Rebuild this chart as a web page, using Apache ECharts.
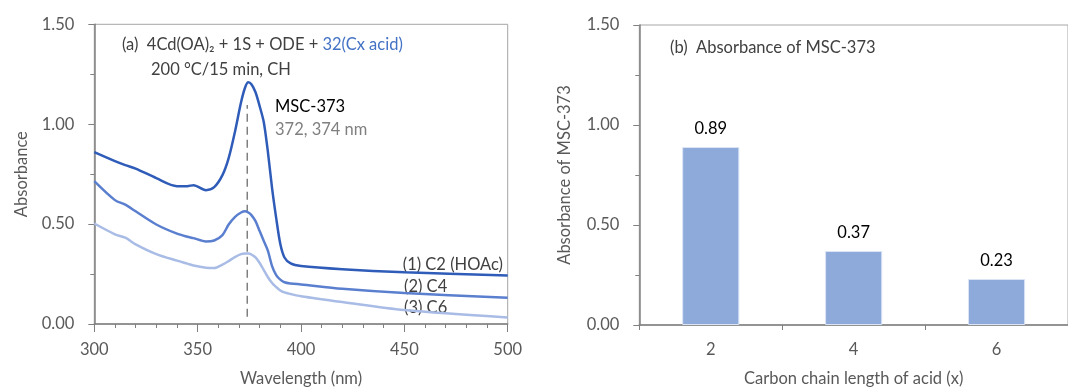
<!DOCTYPE html>
<html>
<head>
<meta charset="utf-8">
<script src="https://cdn.jsdelivr.net/npm/echarts@6/dist/echarts.min.js"></script>
<style>
  html, body { margin: 0; padding: 0; background: #fff; }
  #chart { width: 1068px; height: 392px; }
</style>
</head>
<body>
<div id="chart"></div>
<script>
// (a) spectra, wavelength in nm / absorbance
const wavelength = [300, 310, 315, 320, 330, 340, 345, 348, 354, 358, 362, 365, 368, 371, 373, 374.5, 376, 378, 380, 382, 384, 386, 388, 390, 392, 395, 400, 420, 450, 500];
const c2 = [0.86, 0.815, 0.795, 0.778, 0.73, 0.69, 0.69, 0.695, 0.67, 0.685, 0.745, 0.83, 0.96, 1.11, 1.185, 1.21, 1.2, 1.16, 1.09, 1.01, 0.86, 0.68, 0.53, 0.40, 0.333, 0.303, 0.29, 0.274, 0.259, 0.243];
const c4 = [0.715, 0.62, 0.597, 0.564, 0.498, 0.452, 0.437, 0.43, 0.413, 0.418, 0.445, 0.498, 0.535, 0.558, 0.564, 0.558, 0.545, 0.515, 0.465, 0.415, 0.366, 0.29, 0.245, 0.222, 0.209, 0.203, 0.198, 0.176, 0.155, 0.132];
const c6 = [0.503, 0.449, 0.432, 0.399, 0.35, 0.317, 0.302, 0.293, 0.282, 0.28, 0.297, 0.315, 0.335, 0.35, 0.353, 0.353, 0.348, 0.333, 0.305, 0.27, 0.234, 0.205, 0.185, 0.168, 0.158, 0.15, 0.139, 0.11, 0.07, 0.033];
const seriesNames = ['(1) C2 (HOAc)', '(2) C4', '(3) C6'];
const peakLine = [374, 0.036, 1.096];

// (b) bar values
const chainLength = ['2', '4', '6'];
const msc373 = [0.89, 0.37, 0.23];

const toPairs = (ys) => ys.map((y, i) => [wavelength[i], y]);

const font = 'Lato, "Open Sans", sans-serif';
const fs = 16.5;
const axisGray = '#808080';
const textGray = '#595959';

const chart = echarts.init(document.getElementById('chart'));

const valueYAxis = (gridIndex, name, gap) => ({
  gridIndex,
  type: 'value',
  min: 0,
  max: 1.5,
  interval: 0.5,
  name,
  nameLocation: 'middle',
  nameGap: gap,
  nameTextStyle: { color: textGray, fontSize: fs, fontFamily: font },
  axisLine: { show: true, lineStyle: { color: axisGray, width: 1.5 } },
  axisTick: { show: true, length: 6, lineStyle: { color: axisGray } },
  minorTick: { show: true, splitNumber: 2, length: 4, lineStyle: { color: axisGray } },
  splitLine: { show: false },
  axisLabel: {
    color: textGray, fontSize: fs, fontFamily: font, margin: 20,
    formatter: (v) => v.toFixed(2),
  },
});

const lineColors = ['#2f5cb8', '#5b7fcf', '#a9bce6'];
const lineData = [c2, c4, c6];

const txt = (s, fill) => ({ text: s, fill, font: fs + 'px ' + font });

chart.setOption({
  animation: false,
  grid: [
    { left: 94.3, top: 24.3, width: 413.4, height: 303, show: true, borderColor: '#a6a6a6', borderWidth: 1 },
    { left: 639.3, top: 25, width: 434, height: 304, show: true, borderColor: '#a6a6a6', borderWidth: 1 },
  ],
  xAxis: [
    {
      gridIndex: 0,
      type: 'value',
      min: 300,
      max: 500,
      interval: 50,
      name: 'Wavelength (nm)',
      nameLocation: 'middle',
      nameGap: 46,
      nameTextStyle: { color: textGray, fontSize: fs, fontFamily: font },
      axisLine: { show: true, lineStyle: { color: axisGray, width: 1.5 } },
      axisTick: { show: true, length: 8, lineStyle: { color: axisGray } },
      minorTick: { show: true, splitNumber: 5, length: 4, lineStyle: { color: axisGray } },
      splitLine: { show: false },
      axisLabel: { color: textGray, fontSize: fs, fontFamily: font, margin: 17 },
    },
    {
      gridIndex: 1,
      type: 'category',
      data: chainLength,
      name: 'Carbon chain length of acid (x)',
      nameLocation: 'middle',
      nameGap: 45,
      nameTextStyle: { color: textGray, fontSize: fs, fontFamily: font },
      axisLine: { show: true, lineStyle: { color: axisGray, width: 1.5 } },
      axisTick: { show: true, length: 5, lineStyle: { color: axisGray } },
      axisLabel: { color: textGray, fontSize: fs, fontFamily: font, margin: 16 },
    },
  ],
  yAxis: [
    valueYAxis(0, 'Absorbance', 64),
    valueYAxis(1, 'Absorbance of MSC-373', 66),
  ],
  series: [
    ...lineData.map((ys, i) => ({
      name: seriesNames[i],
      type: 'line',
      xAxisIndex: 0,
      yAxisIndex: 0,
      data: toPairs(ys),
      smooth: 0.3,
      symbol: 'none',
      lineStyle: { color: lineColors[i], width: 2.5 },
      z: 5 - i,
    })),
    {
      type: 'line',
      xAxisIndex: 0,
      yAxisIndex: 0,
      data: [[peakLine[0], peakLine[1]], [peakLine[0], peakLine[2]]],
      symbol: 'none',
      lineStyle: { color: '#7f7f7f', width: 1.5, type: [8, 5] },
      z: 1,
    },
    {
      type: 'bar',
      xAxisIndex: 1,
      yAxisIndex: 1,
      data: msc373,
      barWidth: '40%',
      itemStyle: { color: '#8eaadb', borderColor: '#dbe4f5', borderWidth: 1 },
      label: {
        show: true,
        position: 'top',
        distance: 10,
        color: '#000',
        fontSize: fs,
        fontFamily: font,
        formatter: (p) => p.value.toFixed(2),
      },
    },
  ],
  graphic: [
    {
      type: 'text', left: 122, top: 36,
      style: {
        text: '{a|(a)  4Cd(OA)₂ + 1S + ODE + }{b|32(Cx acid)}',
        font: fs + 'px ' + font,
        rich: {
          a: { fill: '#404040', fontSize: fs, fontFamily: font },
          b: { fill: '#4472c4', fontSize: fs, fontFamily: font },
        },
      },
    },
    { type: 'text', left: 151, top: 61, style: txt('200 °C/15 min, CH', '#404040') },
    { type: 'text', left: 275, top: 98, style: txt('MSC-373', '#000') },
    { type: 'text', left: 275, top: 121, style: txt('372, 374 nm', '#7f7f7f') },
    { type: 'text', right: 565, top: 256, style: txt(seriesNames[0], '#404040') },
    { type: 'text', left: 404, top: 278, style: txt(seriesNames[1], '#404040') },
    { type: 'text', left: 404, top: 299, style: txt(seriesNames[2], '#404040') },
    { type: 'text', left: 670, top: 39, style: txt('(b)  Absorbance of MSC-373', '#404040') },
  ],
});
</script>
</body>
</html>
